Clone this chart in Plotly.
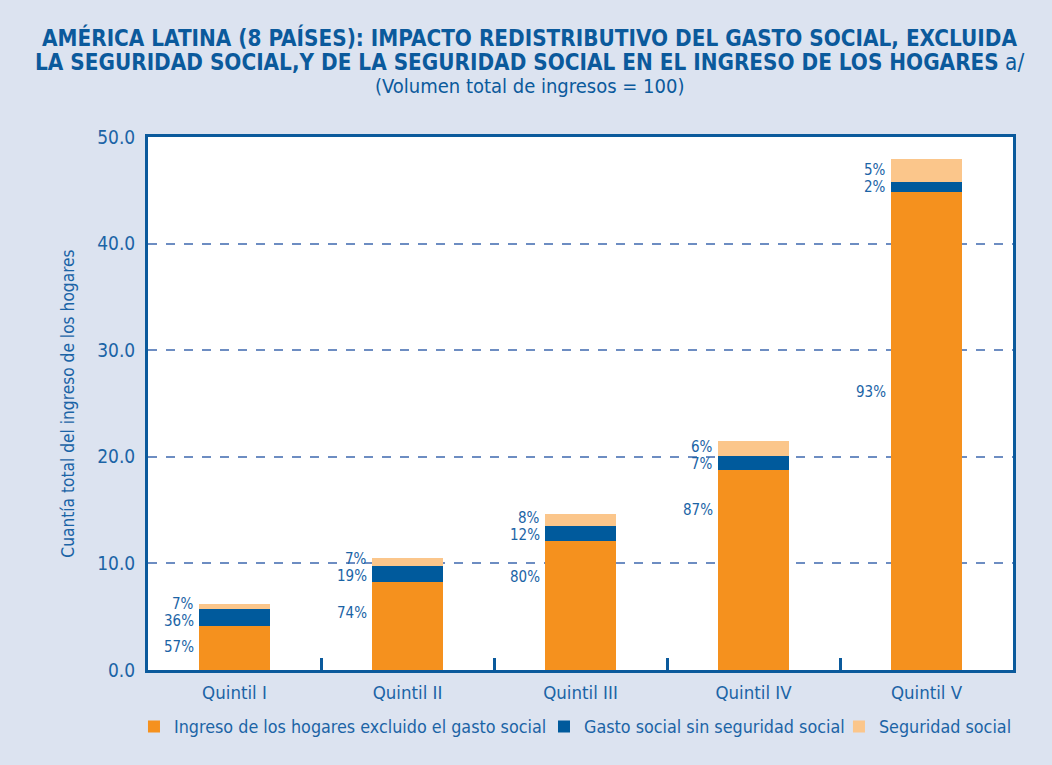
import plotly.graph_objects as go

# Income quintiles
quintiles = ["Quintil I", "Quintil II", "Quintil III", "Quintil IV", "Quintil V"]

# Share of total household income (total income volume = 100)
ingreso_hogares = [4.1, 8.3, 12.1, 18.8, 44.8]
gasto_social = [1.6, 1.5, 1.4, 1.3, 1.0]
seguridad_social = [0.5, 0.7, 1.1, 1.4, 2.1]

# Percentage labels for each component
pct_ingreso = ["57%", "74%", "80%", "87%", "93%"]
pct_gasto = ["36%", "19%", "12%", "7%", "2%"]
pct_seguridad = ["7%", "7%", "8%", "6%", "5%"]

# Heights at which the income-share labels sit beside each bar
ingreso_label_y = [2.16, 5.35, 8.72, 15.0, 26.1]

series_names = [
    "Ingreso de los hogares excluido el gasto social",
    "Gasto social sin seguridad social",
    "Seguridad social",
]

title_lines = [
    "<b>AMÉRICA LATINA (8 PAÍSES): IMPACTO REDISTRIBUTIVO DEL GASTO SOCIAL, EXCLUIDA</b>",
    "<b>LA SEGURIDAD SOCIAL,Y DE LA SEGURIDAD SOCIAL EN EL INGRESO DE LOS HOGARES</b> a/",
    "(Volumen total de ingresos = 100)",
]

ORANGE = "#f5911e"
BLUE = "#005a9c"
PEACH = "#fbc68b"
TEXT = "#1b64a6"
AXIS = "#0b5a9c"
BG = "#dce3f0"
FONT = "Liberation Sans Narrow, DejaVu Sans Condensed, Roboto, sans-serif"

# Each series has its own legend box so the three entries can be spaced freely
legend_ids = ["legend", "legend2", "legend3"]
legend_x = [-0.0162, 0.4578, 0.7988]

fig = go.Figure()
for name, vals, col, lid in zip(series_names,
                                [ingreso_hogares, gasto_social, seguridad_social],
                                [ORANGE, BLUE, PEACH], legend_ids):
    fig.add_trace(go.Bar(x=quintiles, y=vals, name=name, legend=lid,
                         showlegend=True,
                         marker=dict(color=col, line=dict(width=0))))

annotations = []

# Title, one annotation per line for tighter line spacing (centred on the page)
for yv, line, size in zip([1.1876, 1.1407, 1.0957], title_lines, [22.3, 22.3, 20]):
    annotations.append(dict(xref="paper", yref="paper", x=0.4416, y=yv, text=line,
                            showarrow=False, xanchor="center", yanchor="middle",
                            font=dict(family=FONT, size=size, color=AXIS)))

# Percentage labels to the left of each bar
for i, q in enumerate(quintiles):
    base = ingreso_hogares[i]
    blue_mid = base + gasto_social[i] / 2
    peach_mid = base + gasto_social[i] + seguridad_social[i] / 2
    sep = peach_mid - blue_mid
    if sep < 1.6:
        push = (1.6 - sep) / 2
        blue_mid -= push
        peach_mid += push
    for yv, txt in [(ingreso_label_y[i], pct_ingreso[i]),
                    (blue_mid, pct_gasto[i]),
                    (peach_mid, pct_seguridad[i])]:
        annotations.append(dict(x=q, y=yv, text=txt, showarrow=False,
                                xanchor="right", yanchor="middle", xshift=-39,
                                font=dict(family=FONT, size=15, color=TEXT)))

legend_style = dict(orientation="h", xanchor="left", y=-0.072, yanchor="top",
                    font=dict(family=FONT, size=17.8, color=TEXT),
                    bgcolor="rgba(0,0,0,0)", itemwidth=30, visible=True)

fig.update_layout(
    width=1052, height=765,
    paper_bgcolor=BG, plot_bgcolor="white",
    margin=dict(l=148, r=39, t=137, b=95),
    barmode="stack", bargap=0.595,
    showlegend=True,
    font=dict(family=FONT, color=TEXT),
    legend=dict(x=legend_x[0], **legend_style),
    legend2=dict(x=legend_x[1], **legend_style),
    legend3=dict(x=legend_x[2], **legend_style),
    annotations=annotations,
)

fig.update_xaxes(
    showline=True, mirror=True, linecolor=AXIS, linewidth=3,
    ticks="inside", tickson="boundaries", ticklen=12, tickwidth=3, tickcolor=AXIS,
    tickfont=dict(family=FONT, size=18.5, color=TEXT),
    ticklabelstandoff=4,
    showgrid=False,
)
fig.update_yaxes(
    range=[0, 50], dtick=10, tickformat=".1f",
    showline=True, mirror=True, linecolor=AXIS, linewidth=3,
    showgrid=True, gridcolor="#6d8dc2", gridwidth=2, griddash="dash",
    zeroline=False, ticks="",
    tickfont=dict(family=FONT, size=19, color=TEXT),
    ticklabelstandoff=6,
    title=dict(text="Cuantía total del ingreso de los hogares",
               font=dict(family=FONT, size=17.2, color=TEXT), standoff=19),
)

fig.write_html("out.html")
